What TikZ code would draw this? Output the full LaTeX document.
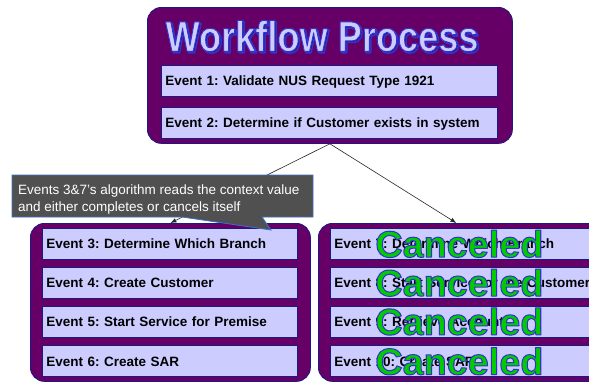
\documentclass[tikz,border=0pt]{standalone}
\usepackage{fontspec}
\setmainfont{Liberation Sans}
\usetikzlibrary{arrows.meta, positioning}

\definecolor{wfpurple}{HTML}{660066}
\definecolor{evfill}{HTML}{CCCCFF}
\definecolor{evline}{HTML}{1A1A80}
\definecolor{tipgray}{HTML}{505050}
\definecolor{tipline}{HTML}{3F6FC8}
\definecolor{cangreen}{HTML}{00CC00}
\definecolor{titleline}{HTML}{3333CC}
% outlined letters: fill in the current colour, stroke in blue
\newcommand{\outlined}[2]{\special{pdf:literal q 0.2 0.2 0.8 RG #1 w 1 j 2 Tr}#2\special{pdf:literal Q}}
\frenchspacing

\begin{document}
\begin{tikzpicture}[x=1pt, y=-1pt]
            \tikzstyle{group} = [rectangle, rounded corners=14pt, fill=wfpurple, draw=evline,
                                 line width=0.8pt, anchor=north west, inner sep=0pt]
            \tikzstyle{event} = [rectangle, draw=evline, fill=evfill, line width=0.8pt,
                                 anchor=north west, minimum height=31pt, inner xsep=4pt,
                                 text height=12pt, text depth=2.3pt, align=left,
                                 font=\fontsize{13.5}{16}\selectfont\bfseries]
            \tikzstyle{link} = [-{Latex[length=6pt,width=4.5pt]}, line width=0.6pt, black!85]
            \tikzstyle{cancel} = [inner sep=0pt, text=cangreen,
                                  font=\fontsize{37}{40}\selectfont\bfseries]
            \tikzstyle{heading} = [inner sep=0pt, font=\fontsize{42}{44}\selectfont\bfseries]

            \useasboundingbox (0,0) rectangle (589,383);
            \clip (0,0) rectangle (589,383);

            % the three containers
            \node (wf)   [group, minimum width=365pt, minimum height=136pt] at (147,7)   {};
            \node (grpA) [group, minimum width=280pt, minimum height=158pt] at (30,223)  {};
            \node (grpB) [group, minimum width=300pt, minimum height=158pt] at (318,223) {};

            \node (titlesh) [heading, text=evline] at (323.5,37.5)
                  {\resizebox{313pt}{31pt}{\outlined{1.6}{Workflow Process}}};
            \node (title) [heading, text=evfill] at (322,36)
                  {\resizebox{313pt}{31pt}{\outlined{1.0}{Workflow Process}}};

            \node (ev1) [event, minimum width=336pt, text width=328pt] at (161,65) {Event 1: Validate NUS Request Type 1921};
            \node (ev2) [event, minimum width=336pt, text width=328pt, below=10pt of ev1] {Event 2: Determine if Customer exists in system};

            \draw [link] (wf.south) -- (grpA.north);
            \draw [link] (wf.south) -- ([xshift=-12pt]grpB.north);

            % left branch
            \node (ev3) [event, minimum width=255pt, text width=247pt] at (42,228) {Event 3: Determine Which Branch};
            \node (ev4) [event, minimum width=255pt, text width=247pt, below=7pt of ev3] {Event 4: Create Customer};
            \node (ev5) [event, minimum width=255pt, text width=247pt, below=7pt of ev4] {Event 5: Start Service for Premise};
            \node (ev6) [event, minimum width=255pt, text width=247pt, below=8pt of ev5] {Event 6: Create SAR};

            % right branch
            \node (ev7)  [event, minimum width=280pt, text width=272pt] at (330,228) {Event 7: Determine Which Branch};
            \node (ev8)  [event, minimum width=280pt, text width=272pt, below=7pt of ev7] {Event 8: Start Service for the Customer};
            \node (ev9)  [event, minimum width=280pt, text width=272pt, below=7pt of ev8] {Event 9: Retrieve Account};
            \node (ev10) [event, minimum width=280pt, text width=272pt, below=8pt of ev9] {Event 10: Create SAR};

            \node (can7)  [cancel] at ([xshift=-11pt]ev7.center)  {\resizebox{168pt}{27pt}{\outlined{1.0}{Canceled}}};
            \node (can8)  [cancel] at ([xshift=-11pt]ev8.center)  {\resizebox{168pt}{27pt}{\outlined{1.0}{Canceled}}};
            \node (can9)  [cancel] at ([xshift=-11pt]ev9.center)  {\resizebox{168pt}{27pt}{\outlined{1.0}{Canceled}}};
            \node (can10) [cancel] at ([xshift=-11pt]ev10.center) {\resizebox{168pt}{27pt}{\outlined{1.0}{Canceled}}};

            % callout
            \draw [fill=tipgray, draw=tipline, line width=0.8pt]
                  (12,175) -- (313,175) -- (313,217) -- (262,217) -- (271,230) -- (182,217) -- (12,217) -- cycle;
            \node (tip) [anchor=north west, inner sep=0pt, text=white, align=left,
                         font=\fontsize{13.5}{17}\selectfont] at (18,185)
                  {Events 3\&7's algorithm reads the context value\\and either completes or cancels itself};
        \end{tikzpicture}
\end{document}
